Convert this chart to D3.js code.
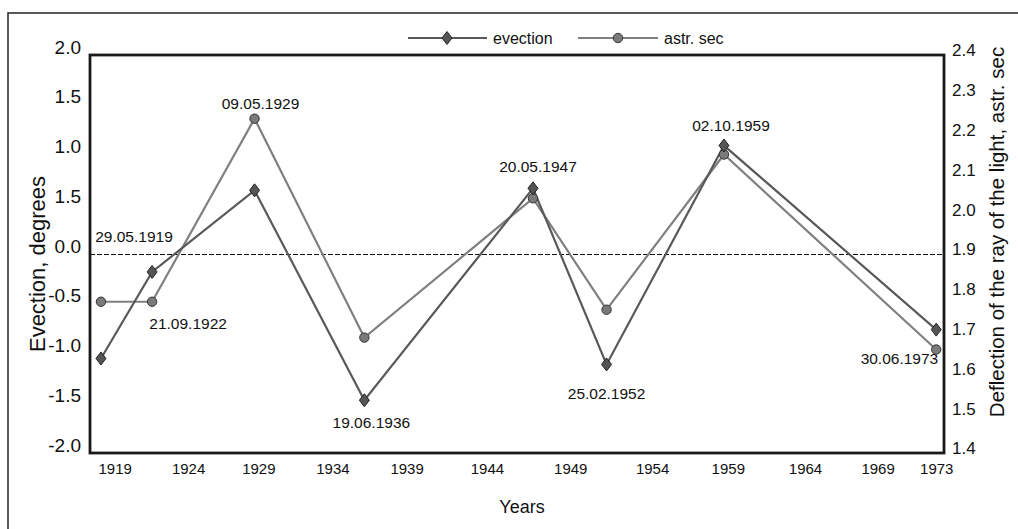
<!DOCTYPE html>
<html>
<head>
<meta charset="utf-8">
<script src="https://cdn.jsdelivr.net/npm/d3@7"></script>
<style>
  body { margin: 0; background: #fff; }
  text { font-family: "Liberation Sans", Arial, sans-serif; fill: #111; }
</style>
</head>
<body>
<div id="chart"></div>
<script>
// observation dates (dd.mm.yyyy) and the two measured series
var dates = ["29.05.1919", "21.09.1922", "09.05.1929", "19.06.1936",
             "20.05.1947", "25.02.1952", "02.10.1959", "30.06.1973"];
var evection = [-1.05, -0.18, 0.64, -1.47, 0.66, -1.11, 1.09, -0.76];
var astrSec  = [1.78, 1.78, 2.24, 1.69, 2.04, 1.76, 2.15, 1.66];

// axis labels as printed (note the second "1.5" on the left axis)
var xTickLabels = ["1919", "1924", "1929", "1934", "1939", "1944",
                   "1949", "1954", "1959", "1964", "1969", "1973"];
var xTickAt = [1920.3, 1925.05, 1929.6, 1934.4, 1939.2, 1944.4,
               1949.8, 1955.1, 1960.0, 1965.0, 1969.7, 1973.5];
var yLeftTicks  = [2.0, 1.5, 1.0, 0.5, 0.0, -0.5, -1.0, -1.5, -2.0];
var yLeftLabels = ["2.0", "1.5", "1.0", "1.5", "0.0", "-0.5", "-1.0", "-1.5", "-2.0"];
var yRightTicks = [2.4, 2.3, 2.2, 2.1, 2.0, 1.9, 1.8, 1.7, 1.6, 1.5, 1.4];

var width = 1018, height = 529;
var margin = {top: 55, right: 74, bottom: 76, left: 90};
var pw = width - margin.left - margin.right,
    ph = height - margin.top - margin.bottom;

function toYear(s) {
  var p = s.split(".");
  return +p[2] + (+p[1] - 1) / 12 + (+p[0] - 1) / 365;
}

var data = dates.map(function(d, i) {
  return {label: d, t: toYear(d), ev: evection[i], as: astrSec[i]};
});

var svg = d3.select("#chart").append("svg")
    .attr("width", width)
    .attr("height", height);

// outer frame (runs off the right and bottom of the picture)
svg.append("path")
    .attr("d", "M8,529V13H1018")
    .attr("fill", "none")
    .attr("stroke", "#222")
    .attr("stroke-width", 1.5);

var g = svg.append("g").attr("transform", "translate(" + margin.left + "," + margin.top + ")");

var x = d3.scaleLinear().domain([1918.7, 1974.0]).range([0, pw]);
var yL = d3.scaleLinear().domain([-2, 2]).range([ph, 0]);
var yR = d3.scaleLinear().domain([1.4, 2.4]).range([ph, 0]);

// axes
var xAxis = g.append("g")
    .attr("transform", "translate(0," + ph + ")")
    .call(d3.axisBottom(x).tickValues(xTickAt).tickSize(0)
      .tickFormat(function(d, i) { return xTickLabels[i]; }));
xAxis.select(".domain").remove();
xAxis.selectAll("text")
    .attr("dy", "1.2em")
    .style("font-size", "15px")
    .style("font-family", "Liberation Sans, Arial, sans-serif")
    .attr("fill", "#111");

var yAxisL = g.append("g")
    .call(d3.axisLeft(yL).tickValues(yLeftTicks).tickSize(0)
      .tickFormat(function(d, i) { return yLeftLabels[i]; }));
yAxisL.select(".domain").remove();
yAxisL.selectAll("text")
    .attr("x", -9)
    .attr("dy", "-0.1em")
    .style("font-size", "19px")
    .style("font-family", "Liberation Sans, Arial, sans-serif")
    .attr("fill", "#111");

var yAxisR = g.append("g")
    .attr("transform", "translate(" + pw + ",0)")
    .call(d3.axisRight(yR).tickValues(yRightTicks).tickSize(0)
      .tickFormat(d3.format(".1f")));
yAxisR.select(".domain").remove();
yAxisR.selectAll("text")
    .attr("x", 8)
    .attr("dy", "0.05em")
    .style("font-size", "17px")
    .style("font-family", "Liberation Sans, Arial, sans-serif")
    .attr("fill", "#111");

// zero reference
g.append("line")
    .attr("x1", 0).attr("x2", pw)
    .attr("y1", yL(0) + 0.5).attr("y2", yL(0) + 0.5)
    .attr("stroke", "#111")
    .attr("stroke-width", 1)
    .attr("stroke-dasharray", "5,2");

// series
var lineEv = d3.line().x(function(d) { return x(d.t); }).y(function(d) { return yL(d.ev); });
var lineAs = d3.line().x(function(d) { return x(d.t); }).y(function(d) { return yR(d.as); });

g.append("path").datum(data)
    .attr("d", lineAs)
    .attr("fill", "none")
    .attr("stroke", "#808080")
    .attr("stroke-width", 2.2);

g.append("path").datum(data)
    .attr("d", lineEv)
    .attr("fill", "none")
    .attr("stroke", "#595959")
    .attr("stroke-width", 2.2);

var diamond = "M0,-6.5L5,0L0,6.5L-5,0Z";

g.selectAll(".dot-as").data(data).enter().append("circle")
    .attr("cx", function(d) { return x(d.t); })
    .attr("cy", function(d) { return yR(d.as); })
    .attr("r", 4.7)
    .attr("fill", "#7a7a7a")
    .attr("stroke", "#333")
    .attr("stroke-width", 1);

g.selectAll(".dot-ev").data(data).enter().append("path")
    .attr("d", diamond)
    .attr("transform", function(d) { return "translate(" + x(d.t) + "," + yL(d.ev) + ")"; })
    .attr("fill", "#555")
    .attr("stroke", "#222")
    .attr("stroke-width", 1);

// frame of the plotting area
g.append("rect")
    .attr("x", 0).attr("y", 0)
    .attr("width", pw).attr("height", ph)
    .attr("fill", "none")
    .attr("stroke", "#1a1a1a")
    .attr("stroke-width", 2.8);

// date annotations: which series point they sit next to, and the offset
var notes = [
  {s: "as", dx: 33, dy: -65, a: "middle"},
  {s: "as", dx: 36, dy: 22, a: "middle"},
  {s: "as", dx: 6, dy: -15, a: "middle"},
  {s: "ev", dx: 7, dy: 23, a: "middle"},
  {s: "ev", dx: 5, dy: -21, a: "middle"},
  {s: "ev", dx: 0, dy: 30, a: "middle"},
  {s: "ev", dx: 7, dy: -20, a: "middle"},
  {s: "as", dx: 2, dy: 9, a: "end"}
];

g.selectAll(".note").data(data).enter().append("text")
    .attr("x", function(d, i) { return x(d.t) + notes[i].dx; })
    .attr("y", function(d, i) {
      var py = notes[i].s === "as" ? yR(d.as) : yL(d.ev);
      return py + notes[i].dy + 5;
    })
    .attr("text-anchor", function(d, i) { return notes[i].a; })
    .style("font-size", "15.5px")
    .text(function(d) { return d.label; });

// axis titles
svg.append("text")
    .attr("transform", "translate(45,264) rotate(-90)")
    .attr("text-anchor", "middle")
    .style("font-size", "22px")
    .text("Evection, degrees");

svg.append("text")
    .attr("transform", "translate(1004,232) rotate(-90)")
    .attr("text-anchor", "middle")
    .style("font-size", "20.5px")
    .text("Deflection of the ray of the light, astr. sec");

svg.append("text")
    .attr("x", 522).attr("y", 513)
    .attr("text-anchor", "middle")
    .style("font-size", "18px")
    .text("Years");

// legend
var legend = svg.append("g").attr("transform", "translate(0,38)");
legend.append("line").attr("x1", 408).attr("x2", 487).attr("y1", 0).attr("y2", 0)
    .attr("stroke", "#595959").attr("stroke-width", 2.2);
legend.append("path").attr("d", diamond).attr("transform", "translate(447,0)")
    .attr("fill", "#555").attr("stroke", "#222");
legend.append("text").attr("x", 493).attr("y", 5.5).style("font-size", "16px").text("evection");
legend.append("line").attr("x1", 578).attr("x2", 658).attr("y1", 0).attr("y2", 0)
    .attr("stroke", "#808080").attr("stroke-width", 2.2);
legend.append("circle").attr("cx", 618).attr("cy", 0).attr("r", 4.7)
    .attr("fill", "#7a7a7a").attr("stroke", "#333");
legend.append("text").attr("x", 664).attr("y", 5.5).style("font-size", "16px").text("astr. sec");
</script>
</body>
</html>
